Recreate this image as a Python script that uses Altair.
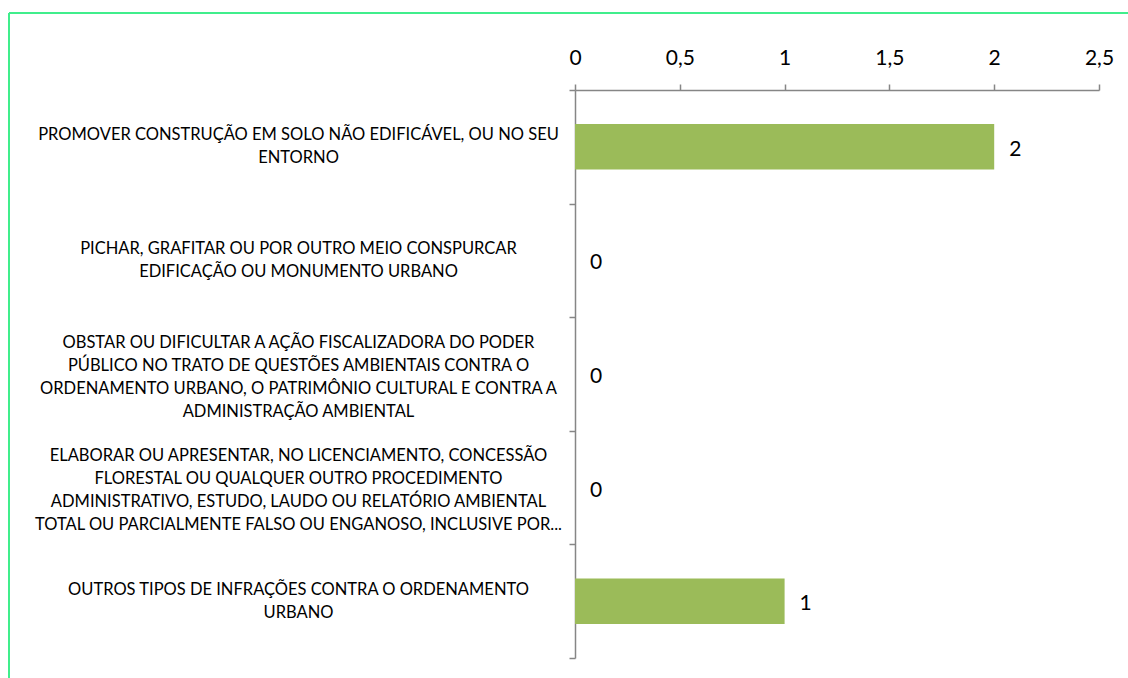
import altair as alt
import pandas as pd

categories = [
    "PROMOVER CONSTRUÇÃO EM SOLO NÃO EDIFICÁVEL, OU NO SEU|ENTORNO",
    "PICHAR, GRAFITAR OU POR OUTRO MEIO CONSPURCAR|EDIFICAÇÃO OU MONUMENTO URBANO",
    "OBSTAR OU DIFICULTAR A AÇÃO FISCALIZADORA DO PODER|PÚBLICO NO TRATO DE QUESTÕES AMBIENTAIS CONTRA O|ORDENAMENTO URBANO, O PATRIMÔNIO CULTURAL E CONTRA A|ADMINISTRAÇÃO AMBIENTAL",
    "ELABORAR OU APRESENTAR, NO LICENCIAMENTO, CONCESSÃO|FLORESTAL OU QUALQUER OUTRO PROCEDIMENTO|ADMINISTRATIVO, ESTUDO, LAUDO OU RELATÓRIO AMBIENTAL|TOTAL OU PARCIALMENTE FALSO OU ENGANOSO, INCLUSIVE POR...",
    "OUTROS TIPOS DE INFRAÇÕES CONTRA O ORDENAMENTO|URBANO",
]
values = [2, 0, 0, 0, 1]
x_ticks = [0, 0.5, 1, 1.5, 2, 2.5]

df = pd.DataFrame({"cat": categories, "val": values})
one = pd.DataFrame({"a": [0]})

FONT = "Lato"
AX = "#868686"

y_enc = alt.Y(
    "cat:N",
    sort=None,
    title=None,
    scale=alt.Scale(paddingInner=0, paddingOuter=0),
    axis=alt.Axis(
        tickBand="extent",
        labelExpr="split(datum.label, '|')",
        labelAlign="center",
        labelBaseline="middle",
        labelPadding=271,
        labelLineHeight=23,
        labelOffset={
            "condition": {"test": "length(split(datum.value, '|')) > 2", "value": -32},
            "value": -12,
        },
        labelFont=FONT,
        labelFontSize=16.5,
        labelColor="#000000",
        labelLimit=700,
        domainColor=AX,
        tickColor=AX,
        tickSize=6,
        domainWidth=1.5,
        tickWidth=1.5,
    ),
)

x_enc = alt.X(
    "val:Q",
    title=None,
    scale=alt.Scale(domain=[0, 2.5], nice=False),
    axis=alt.Axis(
        orient="top",
        values=x_ticks,
        grid=False,
        labelFlush=False,
        labelExpr="replace(format(datum.value, '~g'), '.', ',')",
        labelFont=FONT,
        labelFontSize=21,
        labelColor="#000000",
        labelPadding=16,
        domainColor=AX,
        tickColor=AX,
        tickSize=6,
        domainWidth=1.5,
        tickWidth=1.5,
    ),
)

bars = alt.Chart(df).mark_bar(color="#9BBB59", height={"band": 0.4}).encode(
    x=x_enc, y=y_enc
)

texts = alt.Chart(df).mark_text(
    align="left", baseline="middle", dx=15, dy=3, font=FONT, fontSize=21, color="#000000"
).encode(x="val:Q", y=alt.Y("cat:N", sort=None), text="val:Q")

border_top = alt.Chart(one).mark_rule(color="#40EE8C", strokeWidth=2).encode(
    x=alt.value(-566), x2=alt.value(560), y=alt.value(-77)
)
border_left = alt.Chart(one).mark_rule(color="#40EE8C", strokeWidth=2).encode(
    x=alt.value(-566), y=alt.value(-77), y2=alt.value(600)
)

chart = (
    alt.layer(bars, texts, border_top, border_left)
    .properties(
        width=524,
        height=568,
        autosize=alt.AutoSizeParams(type="none"),
        padding={"left": 575, "top": 90, "right": 29, "bottom": 20},
        background="#FFFFFF",
    )
    .configure_view(strokeWidth=0)
)

chart.save("out.html", embed_options={"renderer": "svg", "actions": False})
